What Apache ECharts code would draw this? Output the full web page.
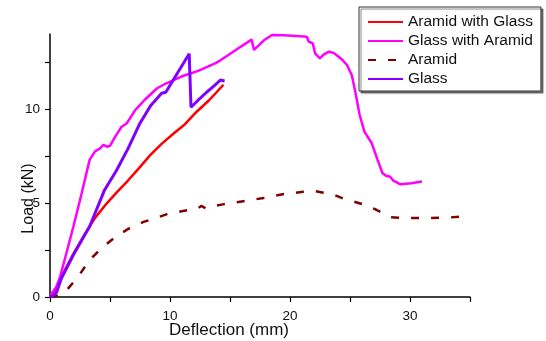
<!DOCTYPE html>
<html>
<head>
<meta charset="utf-8">
<script src="https://cdn.jsdelivr.net/npm/echarts@6/dist/echarts.min.js"></script>
<style>
  html, body { margin: 0; padding: 0; background: #fff; }
  #chart { width: 546px; height: 341px; }
</style>
</head>
<body>
<div id="chart"></div>
<script>
// tick positions
const xTicks = [0, 5, 10, 15, 20, 25, 30, 35];
const xLabels = [0, 10, 20, 30];
const yTicks = [0, 2.5, 5, 7.5, 10, 12.5];
const yLabels = [0, 5, 10];

// Aramid with Glass
const aramidGlassX = [0, 0.15, 0.45, 1.25, 1.95, 2.95, 3.8, 4.75, 5.6, 6.5, 7.4, 8.35, 9.3, 10.3, 11.25, 12.2, 13.3, 14.45];
const aramidGlassY = [0, 0.1, 0.3, 1.45, 2.3, 3.4, 4.25, 5.0, 5.6, 6.2, 6.85, 7.55, 8.15, 8.7, 9.2, 9.85, 10.5, 11.3];

// Glass with Aramid
const glassAramidX = [0, 0.15, 0.5, 0.85, 1.25, 1.95, 2.65, 3.3, 3.75, 4.15, 4.45, 4.75, 5.0, 5.4, 5.95, 6.4, 7.1, 7.9, 8.9, 9.6, 10.3, 11.0, 11.7, 12.4, 13.1, 13.8, 14.2, 14.9, 15.6, 16.2, 16.8, 17.0, 17.4, 17.8, 18.5, 19.5, 20.5, 21.4, 21.55, 21.9, 22.1, 22.5, 22.8, 23.2, 23.6, 23.9, 24.4, 24.75, 25.15, 25.45, 25.8, 26.2, 26.8, 27.3, 27.7, 28.0, 28.35, 28.6, 28.9, 29.2, 30.1, 31.0];
const glassAramidY = [0, 0.2, 0.5, 1.1, 2.05, 3.75, 5.55, 7.3, 7.75, 7.9, 8.1, 8.0, 8.05, 8.5, 9.05, 9.25, 9.95, 10.5, 11.1, 11.35, 11.55, 11.75, 11.9, 12.05, 12.25, 12.45, 12.6, 12.9, 13.2, 13.45, 13.7, 13.15, 13.4, 13.65, 13.95, 13.93, 13.9, 13.85, 13.6, 13.5, 12.95, 12.7, 12.9, 13.05, 13.0, 12.87, 12.6, 12.35, 11.8, 10.9, 9.7, 8.8, 8.2, 7.3, 6.6, 6.45, 6.4, 6.2, 6.1, 6.0, 6.05, 6.15];

// Aramid
const aramidX = [0, 0.5, 1.0, 1.4, 2.35, 3.3, 4.3, 5.3, 6.5, 7.8, 8.8, 9.7, 10.5, 11.4, 12.3, 12.6, 12.75, 13.0, 13.7, 14.4, 16.1, 17.8, 19.4, 21.1, 22.0, 22.8, 23.6, 24.4, 25.2, 26.1, 27.0, 27.8, 28.4, 29.6, 31.2, 33.1, 35.0];
const aramidY = [0, 0.05, 0.2, 0.37, 1.08, 1.97, 2.6, 3.12, 3.62, 4.0, 4.2, 4.4, 4.5, 4.62, 4.7, 4.85, 4.75, 4.72, 4.85, 4.93, 5.1, 5.27, 5.47, 5.6, 5.65, 5.55, 5.45, 5.25, 5.1, 4.93, 4.7, 4.45, 4.25, 4.2, 4.2, 4.22, 4.33];

// Glass
const glassX = [0, 0.3, 0.55, 0.95, 2.0, 3.3, 4.55, 5.55, 6.5, 7.5, 8.4, 9.3, 9.65, 10.6, 11.6, 11.75, 12.3, 13.05, 13.7, 14.2, 14.55];
const glassY = [0, 0.1, 0.25, 1.0, 2.3, 3.75, 5.7, 6.75, 7.9, 9.25, 10.2, 10.85, 10.9, 11.9, 12.95, 10.1, 10.45, 10.9, 11.25, 11.55, 11.5];

const FONT = '"Liberation Sans", Arial, sans-serif';

const zip = (xs, ys) => xs.map((x, i) => [x, ys[i]]);

const lineSeries = (name, xs, ys, color, width, type) => ({
  name: name,
  type: 'line',
  data: zip(xs, ys),
  symbol: 'none',
  smooth: false,
  animation: false,
  lineStyle: { color: color, width: width, type: type || 'solid' },
  itemStyle: { color: color },
});

const chart = echarts.init(document.getElementById('chart'));

chart.setOption({
  animation: false,
  grid: { left: 50, right: 76, top: 34, bottom: 44, outerBoundsMode: 'none', containLabel: false },
  legend: {
    orient: 'vertical',
    left: 359,
    top: 7,
    padding: [7, 8, 4, 8],
    itemWidth: 35,
    itemHeight: 14,
    itemGap: 3,
    itemStyle: { opacity: 0 },
    backgroundColor: '#fff',
    borderColor: '#333',
    borderWidth: 1,
    shadowColor: 'rgba(0,0,0,0.5)',
    shadowOffsetX: 2,
    shadowOffsetY: 2,
    shadowBlur: 1,
    textStyle: { fontFamily: FONT, fontSize: 15.5, color: '#111' },
    data: ['Aramid with Glass', 'Glass with Aramid', 'Aramid', 'Glass'],
  },
  xAxis: {
    type: 'value',
    min: 0,
    max: 35,
    name: 'Deflection (mm)',
    nameLocation: 'middle',
    nameGap: 25,
    nameMoveOverlap: false,
    nameTextStyle: { fontFamily: FONT, fontSize: 17, color: '#111', padding: [0, 62, 0, 0] },
    splitLine: { show: false },
    axisLine: { onZero: false, lineStyle: { color: '#000', width: 1.5 } },
    axisTick: { inside: false, length: 5, customValues: xTicks, lineStyle: { color: '#000', width: 1.2 } },
    axisLabel: { customValues: xLabels, margin: 12, fontFamily: FONT, fontSize: 13.5, color: '#111' },
  },
  yAxis: {
    type: 'value',
    min: 0,
    max: 14,
    name: 'Load (kN)',
    nameLocation: 'middle',
    nameGap: 13,
    nameMoveOverlap: false,
    nameTextStyle: { fontFamily: FONT, fontSize: 16, color: '#111', padding: [0, 66, 0, 0] },
    splitLine: { show: false },
    axisLine: { show: true, onZero: false, lineStyle: { color: '#000', width: 1.5 } },
    axisTick: { show: true, inside: false, length: 5, customValues: yTicks, lineStyle: { color: '#000', width: 1.2 } },
    axisLabel: { customValues: yLabels, margin: 10, fontFamily: FONT, fontSize: 13.5, color: '#111' },
  },
  series: [
    lineSeries('Aramid with Glass', aramidGlassX, aramidGlassY, '#FF0000', 2.5),
    lineSeries('Glass with Aramid', glassAramidX, glassAramidY, '#FF00FF', 2.5),
    lineSeries('Aramid', aramidX, aramidY, '#800000', 2.5, [8, 12]),
    lineSeries('Glass', glassX, glassY, '#8000FF', 3),
  ],
});
</script>
</body>
</html>
